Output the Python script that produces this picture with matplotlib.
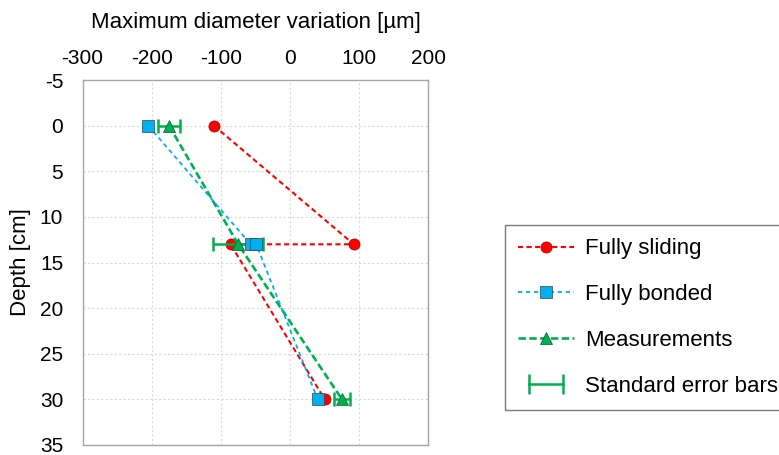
import matplotlib.pyplot as plt
from matplotlib.lines import Line2D
from matplotlib.legend_handler import HandlerLine2D


# ========================================================
# DATI
# ========================================================

sliding_variation = [-110, 92, -86, 50]
sliding_depth = [0, 13, 13, 30]

bonded_variation = [-205, -57, -49, 40]
bonded_depth = [0, 13, 13, 30]

measured_variation = [-175, -75, 75]
measured_depth = [0, 13, 30]
measured_error = [16, 36, 12]

x_ticks = [-300, -200, -100, 0, 100, 200]
y_ticks = [-5, 0, 5, 10, 15, 20, 25, 30, 35]

RED = "#FF0000"
BLUE = "#00B0F0"
GREEN = "#00B050"

plt.rcParams["font.family"] = ["Liberation Sans", "DejaVu Sans"]
plt.rcParams["axes.unicode_minus"] = False


# ========================================================
# CREAZIONE DEL GRAFICO
# ========================================================

figure = plt.figure(figsize=(7.79, 4.55), dpi=100)

axis = figure.add_axes([0.106, 0.022, 0.444, 0.802])

(sliding_line,) = axis.plot(
    sliding_variation,
    sliding_depth,
    color=RED,
    linestyle=(0, (2.5, 1.6)),
    linewidth=1.5,
    marker="o",
    markersize=8,
    markerfacecolor=RED,
    markeredgecolor="#A00000",
    markeredgewidth=0.5,
    zorder=3,
)

axis.errorbar(
    measured_variation,
    measured_depth,
    xerr=measured_error,
    fmt="none",
    ecolor=GREEN,
    elinewidth=1.8,
    capsize=5,
    capthick=1.8,
    zorder=3,
)

(measured_line,) = axis.plot(
    measured_variation,
    measured_depth,
    color=GREEN,
    linestyle=(0, (2.8, 1.3)),
    linewidth=1.9,
    marker="^",
    markersize=9,
    markerfacecolor=GREEN,
    markeredgecolor="#006030",
    markeredgewidth=0.5,
    zorder=4,
)

(bonded_line,) = axis.plot(
    bonded_variation,
    bonded_depth,
    color=BLUE,
    linestyle=(0, (2.4, 2.0)),
    linewidth=1.3,
    marker="s",
    markersize=8,
    markerfacecolor=BLUE,
    markeredgecolor="#404040",
    markeredgewidth=0.5,
    zorder=5,
)


# ========================================================
# ASSI
# ========================================================

axis.set_xlim(-300, 200)
axis.set_ylim(35, -5)

axis.set_xticks(x_ticks)
axis.set_yticks(y_ticks)

axis.xaxis.set_ticks_position("top")
axis.xaxis.set_label_position("top")

axis.tick_params(
    axis="x",
    length=0,
    labelsize=15,
    pad=9,
)

axis.tick_params(
    axis="y",
    length=0,
    labelsize=15,
    pad=14,
)

axis.set_xlabel(
    "Maximum diameter variation [µm]",
    fontsize=16,
    labelpad=15,
)

axis.set_ylabel(
    "Depth [cm]",
    fontsize=16,
    labelpad=6,
)

axis.grid(
    color="#D9D9D9",
    linestyle=(0, (2, 2)),
    linewidth=0.8,
)

for spine in axis.spines.values():
    spine.set_color("#A6A6A6")
    spine.set_linewidth(1.0)


# ========================================================
# LEGENDA
# ========================================================

error_proxy = Line2D(
    [0, 1],
    [0, 0],
    color=GREEN,
    linewidth=1.8,
    marker="|",
    markersize=15,
    markeredgewidth=1.8,
)

handles = [
    sliding_line,
    bonded_line,
    measured_line,
    error_proxy,
]

labels = [
    "Fully sliding",
    "Fully bonded",
    "Measurements",
    "Standard error bars",
]

legend = figure.legend(
    handles,
    labels,
    loc="upper left",
    bbox_to_anchor=(505 / 779, 1 - 225 / 455),
    fontsize=16,
    frameon=True,
    fancybox=False,
    edgecolor="#595959",
    handlelength=2.5,
    handletextpad=0.5,
    labelspacing=1.12,
    borderpad=0.6,
    borderaxespad=0.0,
    handler_map={error_proxy: HandlerLine2D(numpoints=2, marker_pad=0.5)},
)

legend.get_frame().set_linewidth(1.0)


# ========================================================
# SALVATAGGIO
# ========================================================

figure.savefig("out.png", dpi=100)

plt.close(figure)
